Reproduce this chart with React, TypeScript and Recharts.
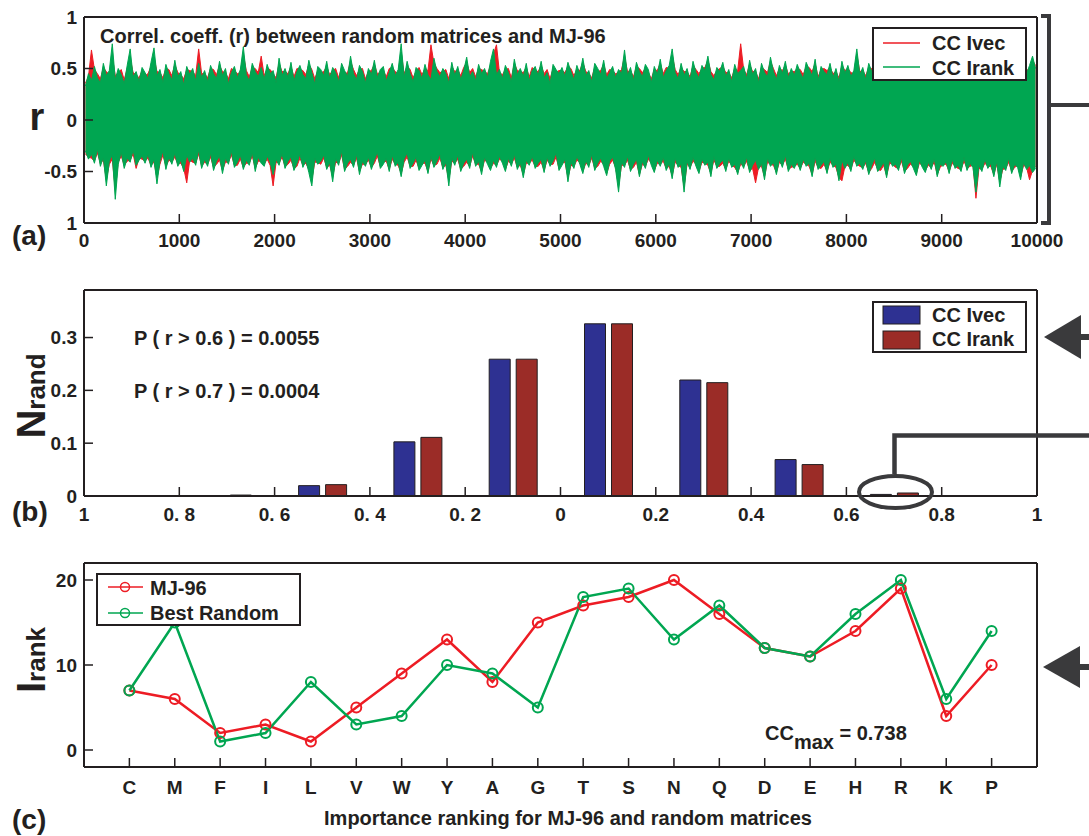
import React from 'react';
import { LineChart, Line, BarChart, Bar, AreaChart, Area, XAxis, YAxis, Legend } from 'recharts';

const FONT = '"Liberation Sans", Arial, Helvetica, sans-serif';
const INK = '#231f20';
const DECO = '#3a3a3c';
const RED = '#ed1c24';
const GREEN = '#00a651';

// ---------- Panel (a): r of the random matrices, envelope per column of ~31 matrices
const columnCount = 320;
const irankHi = [
  0.33,0.45,0.38,0.52,0.41,0.36,0.55,0.43,0.48,0.74,0.39,0.50,0.44,0.35,0.53,0.69,0.42,0.47,0.37,0.51,
  0.46,0.40,0.56,0.70,0.43,0.49,0.36,0.54,0.45,0.39,0.58,0.42,0.47,0.34,0.52,0.44,0.50,0.38,0.55,0.41,
  0.48,0.37,0.53,0.45,0.40,0.57,0.43,0.50,0.35,0.46,0.52,0.41,0.49,0.71,0.44,0.38,0.55,0.47,0.42,0.51,
  0.39,0.54,0.45,0.48,0.36,0.60,0.43,0.50,0.41,0.56,0.38,0.47,0.53,0.44,0.40,0.58,0.46,0.35,0.52,0.49,
  0.43,0.57,0.40,0.51,0.46,0.37,0.55,0.48,0.42,0.62,0.45,0.39,0.53,0.47,0.36,0.50,0.44,0.58,0.41,0.49,
  0.52,0.38,0.46,0.55,0.43,0.49,0.74,0.41,0.57,0.45,0.37,0.51,0.48,0.40,0.54,0.44,0.39,0.60,0.47,0.42,
  0.50,0.45,0.36,0.56,0.43,0.52,0.39,0.48,0.61,0.42,0.47,0.38,0.54,0.45,0.50,0.41,0.57,0.69,0.44,0.49,
  0.40,0.53,0.46,0.37,0.59,0.44,0.50,0.42,0.55,0.38,0.48,0.52,0.43,0.57,0.41,0.46,0.35,0.54,0.49,0.45,
  0.51,0.42,0.56,0.47,0.39,0.53,0.45,0.60,0.43,0.48,0.37,0.55,0.50,0.44,0.58,0.40,0.46,0.52,0.41,0.49,
  0.45,0.68,0.43,0.51,0.38,0.56,0.47,0.42,0.54,0.49,0.36,0.52,0.44,0.59,0.41,0.48,0.53,0.69,0.46,0.40,
  0.55,0.43,0.50,0.38,0.57,0.46,0.41,0.53,0.48,0.62,0.44,0.39,0.51,0.47,0.56,0.42,0.49,0.37,0.54,0.45,
  0.48,0.52,0.40,0.58,0.44,0.50,0.36,0.55,0.46,0.42,0.61,0.47,0.39,0.53,0.45,0.57,0.41,0.50,0.43,0.54,
  0.46,0.40,0.56,0.49,0.43,0.59,0.38,0.52,0.47,0.44,0.55,0.41,0.50,0.37,0.57,0.45,0.53,0.42,0.48,0.69,
  0.44,0.51,0.39,0.55,0.47,0.42,0.60,0.45,0.50,0.38,0.54,0.48,0.43,0.58,0.46,0.40,0.52,0.56,0.41,0.49,
  0.53,0.45,0.57,0.41,0.48,0.62,0.44,0.50,0.37,0.55,0.47,0.43,0.59,0.46,0.51,0.40,0.54,0.48,0.42,0.56,
  0.47,0.52,0.43,0.58,0.45,0.50,0.39,0.55,0.48,0.44,0.60,0.46,0.51,0.41,0.57,0.49,0.45,0.53,0.62,0.50,
];
const irankLo = [
  -0.30,-0.38,-0.33,-0.42,-0.28,-0.45,-0.36,-0.64,-0.40,-0.34,-0.77,-0.43,-0.31,-0.47,-0.37,-0.41,-0.29,-0.44,-0.39,-0.35,
  -0.42,-0.33,-0.46,-0.38,-0.62,-0.40,-0.30,-0.48,-0.36,-0.43,-0.32,-0.45,-0.39,-0.50,-0.34,-0.41,-0.37,-0.44,-0.29,-0.47,
  -0.38,-0.45,-0.32,-0.49,-0.40,-0.35,-0.52,-0.37,-0.43,-0.30,-0.46,-0.41,-0.34,-0.48,-0.39,-0.44,-0.31,-0.50,-0.36,-0.42,
  -0.45,-0.35,-0.41,-0.53,-0.38,-0.44,-0.32,-0.47,-0.40,-0.36,-0.49,-0.42,-0.33,-0.46,-0.39,-0.51,-0.64,-0.37,-0.43,-0.40,
  -0.34,-0.48,-0.41,-0.60,-0.37,-0.44,-0.30,-0.50,-0.42,-0.38,-0.46,-0.33,-0.53,-0.40,-0.45,-0.36,-0.48,-0.39,-0.31,-0.47,
  -0.43,-0.37,-0.50,-0.34,-0.45,-0.41,-0.55,-0.38,-0.32,-0.47,-0.42,-0.36,-0.49,-0.44,-0.39,-0.52,-0.35,-0.46,-0.40,-0.33,
  -0.48,-0.41,-0.64,-0.37,-0.44,-0.34,-0.50,-0.42,-0.38,-0.47,-0.31,-0.45,-0.40,-0.53,-0.36,-0.43,-0.49,-0.39,-0.46,-0.35,
  -0.42,-0.50,-0.37,-0.45,-0.33,-0.48,-0.41,-0.56,-0.39,-0.44,-0.35,-0.47,-0.42,-0.38,-0.51,-0.36,-0.45,-0.40,-0.32,-0.49,
  -0.44,-0.38,-0.60,-0.41,-0.47,-0.35,-0.43,-0.52,-0.39,-0.46,-0.33,-0.49,-0.42,-0.37,-0.45,-0.54,-0.40,-0.36,-0.48,-0.70,
  -0.41,-0.46,-0.35,-0.50,-0.43,-0.38,-0.55,-0.40,-0.47,-0.34,-0.44,-0.51,-0.39,-0.45,-0.36,-0.49,-0.42,-0.57,-0.37,-0.46,
  -0.43,-0.70,-0.40,-0.48,-0.36,-0.45,-0.52,-0.38,-0.44,-0.41,-0.55,-0.35,-0.47,-0.42,-0.39,-0.50,-0.37,-0.46,-0.43,-0.53,
  -0.40,-0.47,-0.36,-0.51,-0.44,-0.39,-0.48,-0.42,-0.58,-0.37,-0.45,-0.41,-0.53,-0.38,-0.46,-0.34,-0.50,-0.43,-0.47,-0.40,
  -0.49,-0.38,-0.45,-0.42,-0.55,-0.36,-0.48,-0.44,-0.40,-0.52,-0.37,-0.46,-0.43,-0.59,-0.39,-0.47,-0.41,-0.50,-0.35,-0.45,
  -0.42,-0.48,-0.39,-0.53,-0.44,-0.37,-0.50,-0.46,-0.41,-0.56,-0.38,-0.45,-0.43,-0.49,-0.36,-0.52,-0.44,-0.40,-0.47,-0.54,
  -0.39,-0.46,-0.51,-0.41,-0.48,-0.37,-0.55,-0.43,-0.45,-0.40,-0.52,-0.38,-0.47,-0.44,-0.50,-0.36,-0.49,-0.42,-0.46,-0.70,
  -0.44,-0.50,-0.38,-0.47,-0.42,-0.55,-0.40,-0.65,-0.45,-0.49,-0.37,-0.52,-0.43,-0.46,-0.58,-0.41,-0.48,-0.44,-0.51,-0.47,
];
const ivecHi = [
  0.36,0.42,0.68,0.49,0.45,0.40,0.51,0.47,0.44,0.62,0.43,0.46,0.49,0.39,0.50,0.60,0.46,0.44,0.41,0.48,
  0.43,0.45,0.52,0.61,0.47,0.46,0.41,0.50,0.49,0.43,0.54,0.46,0.44,0.40,0.49,0.48,0.47,0.43,0.69,0.45,
  0.45,0.41,0.50,0.49,0.44,0.53,0.47,0.46,0.40,0.50,0.48,0.45,0.46,0.64,0.48,0.42,0.51,0.50,0.46,0.62,
  0.43,0.50,0.49,0.45,0.41,0.55,0.47,0.47,0.45,0.52,0.42,0.50,0.49,0.48,0.44,0.54,0.49,0.40,0.48,0.46,
  0.47,0.52,0.44,0.48,0.50,0.41,0.51,0.45,0.46,0.57,0.49,0.43,0.49,0.50,0.40,0.47,0.48,0.54,0.45,0.46,
  0.48,0.42,0.50,0.51,0.47,0.45,0.66,0.45,0.52,0.49,0.41,0.47,0.51,0.44,0.50,0.48,0.73,0.55,0.50,0.46,
  0.47,0.49,0.40,0.52,0.47,0.49,0.43,0.51,0.56,0.46,0.50,0.42,0.50,0.49,0.47,0.45,0.53,0.64,0.73,0.46,
  0.44,0.49,0.50,0.41,0.55,0.48,0.47,0.46,0.51,0.42,0.51,0.48,0.47,0.53,0.45,0.49,0.40,0.50,0.46,0.48,
  0.48,0.46,0.52,0.50,0.43,0.49,0.48,0.56,0.47,0.45,0.41,0.51,0.47,0.48,0.54,0.44,0.49,0.48,0.45,0.46,
  0.49,0.62,0.47,0.48,0.42,0.52,0.50,0.46,0.50,0.46,0.40,0.49,0.48,0.55,0.45,0.51,0.50,0.63,0.49,0.44,
  0.51,0.47,0.47,0.42,0.53,0.49,0.45,0.50,0.51,0.58,0.47,0.43,0.48,0.50,0.52,0.46,0.46,0.41,0.50,0.48,
  0.74,0.49,0.44,0.54,0.47,0.47,0.40,0.51,0.49,0.46,0.57,0.50,0.43,0.50,0.48,0.53,0.45,0.47,0.47,0.50,
  0.49,0.44,0.52,0.51,0.47,0.55,0.42,0.49,0.50,0.48,0.51,0.45,0.47,0.41,0.53,0.48,0.50,0.46,0.45,0.64,
  0.47,0.48,0.43,0.51,0.50,0.46,0.56,0.48,0.47,0.42,0.50,0.51,0.47,0.54,0.49,0.44,0.49,0.52,0.45,0.46,
  0.50,0.48,0.53,0.45,0.51,0.58,0.47,0.47,0.41,0.51,0.50,0.47,0.55,0.49,0.48,0.44,0.50,0.51,0.46,0.52,
  0.50,0.49,0.47,0.54,0.48,0.47,0.43,0.51,0.51,0.48,0.56,0.49,0.48,0.45,0.53,0.52,0.48,0.50,0.58,0.53,
];
const ivecLo = [
  -0.33,-0.36,-0.37,-0.40,-0.32,-0.42,-0.39,-0.58,-0.43,-0.38,-0.68,-0.41,-0.35,-0.44,-0.40,-0.39,-0.33,-0.47,-0.37,-0.38,
  -0.40,-0.37,-0.44,-0.41,-0.56,-0.43,-0.34,-0.45,-0.39,-0.41,-0.36,-0.43,-0.42,-0.47,-0.61,-0.39,-0.41,-0.42,-0.33,-0.45,
  -0.41,-0.43,-0.36,-0.46,-0.43,-0.39,-0.49,-0.41,-0.41,-0.34,-0.44,-0.44,-0.38,-0.46,-0.42,-0.42,-0.35,-0.47,-0.40,-0.40,
  -0.43,-0.38,-0.44,-0.64,-0.41,-0.42,-0.36,-0.45,-0.43,-0.39,-0.47,-0.45,-0.37,-0.44,-0.42,-0.48,-0.58,-0.41,-0.41,-0.43,
  -0.37,-0.46,-0.44,-0.55,-0.41,-0.42,-0.34,-0.48,-0.45,-0.41,-0.44,-0.37,-0.50,-0.43,-0.43,-0.39,-0.46,-0.42,-0.35,-0.45,
  -0.41,-0.40,-0.48,-0.38,-0.43,-0.44,-0.52,-0.41,-0.36,-0.45,-0.45,-0.39,-0.47,-0.42,-0.42,-0.50,-0.38,-0.44,-0.43,-0.37,
  -0.46,-0.44,-0.58,-0.40,-0.42,-0.38,-0.48,-0.45,-0.41,-0.45,-0.35,-0.43,-0.43,-0.50,-0.39,-0.41,-0.47,-0.42,-0.44,-0.38,
  -0.40,-0.48,-0.40,-0.43,-0.37,-0.46,-0.44,-0.53,-0.42,-0.42,-0.39,-0.45,-0.45,-0.41,-0.49,-0.39,-0.43,-0.43,-0.36,-0.47,
  -0.42,-0.41,-0.56,-0.44,-0.45,-0.39,-0.41,-0.50,-0.42,-0.44,-0.37,-0.47,-0.45,-0.40,-0.43,-0.52,-0.43,-0.39,-0.46,-0.64,
  -0.44,-0.44,-0.39,-0.48,-0.46,-0.41,-0.53,-0.43,-0.45,-0.38,-0.42,-0.49,-0.42,-0.43,-0.40,-0.47,-0.45,-0.54,-0.41,-0.44,
  -0.46,-0.65,-0.43,-0.46,-0.40,-0.43,-0.50,-0.41,-0.42,-0.44,-0.52,-0.39,-0.45,-0.45,-0.42,-0.48,-0.40,-0.44,-0.46,-0.51,
  -0.43,-0.45,-0.40,-0.49,-0.47,-0.61,-0.46,-0.45,-0.55,-0.41,-0.43,-0.44,-0.51,-0.41,-0.44,-0.38,-0.48,-0.46,-0.45,-0.43,
  -0.47,-0.41,-0.43,-0.45,-0.53,-0.40,-0.46,-0.47,-0.43,-0.50,-0.41,-0.44,-0.46,-0.56,-0.59,-0.45,-0.44,-0.48,-0.39,-0.43,
  -0.45,-0.46,-0.42,-0.51,-0.47,-0.41,-0.48,-0.49,-0.44,-0.54,-0.42,-0.43,-0.46,-0.47,-0.40,-0.50,-0.47,-0.43,-0.45,-0.52,
  -0.42,-0.44,-0.49,-0.44,-0.46,-0.41,-0.53,-0.46,-0.43,-0.43,-0.50,-0.42,-0.45,-0.47,-0.48,-0.40,-0.47,-0.45,-0.44,-0.76,
  -0.47,-0.48,-0.42,-0.45,-0.45,-0.53,-0.43,-0.60,-0.48,-0.47,-0.41,-0.50,-0.46,-0.44,-0.55,-0.44,-0.46,-0.58,-0.49,-0.45,
];
const aXTicks = [0, 1000, 2000, 3000, 4000, 5000, 6000, 7000, 8000, 9000, 10000];
const aYTicks = [-1, -0.5, 0, 0.5, 1];
const aYLabels = ['1', '-0.5', '0', '0.5', '1'];

// ---------- Panel (b): histogram of r
const binCenters = [-0.9, -0.7, -0.5, -0.3, -0.1, 0.1, 0.3, 0.5, 0.7, 0.9];
const nIvec = [0, 0, 0.0196, 0.1025, 0.259, 0.326, 0.2196, 0.069, 0.003, 0];
const nIrank = [0, 0.0018, 0.0215, 0.111, 0.259, 0.326, 0.2146, 0.0595, 0.0057, 0];
const bXTicks = [-1, -0.8, -0.6, -0.4, -0.2, 0, 0.2, 0.4, 0.6, 0.8, 1];
const bXLabels = ['1', '0. 8', '0. 6', '0. 4', '0. 2', '0', '0.2', '0.4', '0.6', '0.8', '1'];
const bYTicks = [0, 0.1, 0.2, 0.3];

// ---------- Panel (c): importance ranking
const residues = ['C', 'M', 'F', 'I', 'L', 'V', 'W', 'Y', 'A', 'G', 'T', 'S', 'N', 'Q', 'D', 'E', 'H', 'R', 'K', 'P'];
const mj96 = [7, 6, 2, 3, 1, 5, 9, 13, 8, 15, 17, 18, 20, 16, 12, 11, 14, 19, 4, 10];
const bestRandom = [7, 15, 1, 2, 8, 3, 4, 10, 9, 5, 18, 19, 13, 17, 12, 11, 16, 20, 6, 14];
const cYTicks = [0, 10, 20];

const colStep = 10000 / columnCount;
const aData = irankHi.map((h, k) => ({
  idx: (k + 0.5) * colStep,
  irank: [irankLo[k], h],
  ivec: [ivecLo[k], ivecHi[k]],
}));
const bData = binCenters.map((x, i) => ({ x, ivec: nIvec[i], irank: nIrank[i] }));
const cData = residues.map((r, i) => ({ pos: i + 1, res: r, mj: mj96[i], best: bestRandom[i] }));
const cXTicks = cData.map((d) => d.pos);

const tickStyle = { fontSize: 19, fontWeight: 700, fill: INK, fontFamily: FONT };
const axisLine = { stroke: INK, strokeWidth: 2 };
const tickLine = { stroke: INK, strokeWidth: 1.5 };
const TS = -9;

const textBase: any = { fontFamily: FONT, fontWeight: 700, fill: INK };

function orderItems(payload: any[], order: string[]) {
  const items = (payload || []).slice();
  items.sort((a, b) => order.indexOf(a.value) - order.indexOf(b.value));
  return items;
}

const legendA = (props: any) => {
  const items = orderItems(props.payload, ['CC Ivec', 'CC Irank']);
  return (
    <svg width={155} height={54} style={{ display: 'block' }}>
      <rect x={1} y={1} width={153} height={52} fill="#fff" stroke={INK} strokeWidth={2} />
      {items.map((it: any, i: number) => (
        <g key={i}>
          <line x1={11} x2={48} y1={16 + i * 24} y2={16 + i * 24} stroke={it.color} strokeWidth={1.5} />
          <text x={60} y={23 + i * 25} fontSize={20} {...textBase}>{it.value}</text>
        </g>
      ))}
    </svg>
  );
};

const legendB = (props: any) => {
  const items = orderItems(props.payload, ['CC Ivec', 'CC Irank']);
  return (
    <svg width={155} height={52} style={{ display: 'block' }}>
      <rect x={1} y={1} width={153} height={50} fill="#fff" stroke={INK} strokeWidth={2} />
      {items.map((it: any, i: number) => (
        <g key={i}>
          <rect x={11} y={5 + i * 25} width={37} height={18} fill={it.color} stroke={INK} strokeWidth={1} />
          <text x={60} y={21 + i * 24} fontSize={20} {...textBase}>{it.value}</text>
        </g>
      ))}
    </svg>
  );
};

const legendC = (props: any) => {
  const items = orderItems(props.payload, ['MJ-96', 'Best Random']);
  return (
    <svg width={205} height={53} style={{ display: 'block' }}>
      <rect x={1} y={1} width={203} height={51} fill="#fff" stroke={INK} strokeWidth={2} />
      {items.map((it: any, i: number) => (
        <g key={i}>
          <line x1={12} x2={47} y1={14 + i * 26} y2={14 + i * 26} stroke={it.color} strokeWidth={1.5} />
          <circle cx={29} cy={14 + i * 26} r={4.5} fill="none" stroke={it.color} strokeWidth={1.5} />
          <text x={54} y={22 + i * 25} fontSize={20} {...textBase}>{it.value}</text>
        </g>
      ))}
    </svg>
  );
};

function PanelA() {
  return (
    <AreaChart width={1089} height={260} data={aData} margin={{ top: 16, right: 51, bottom: 7, left: 44 }}>
      <XAxis xAxisId="b" dataKey="idx" type="number" domain={[0, 10000]} ticks={aXTicks} allowDataOverflow interval={0}
        height={30} tickSize={TS} tickMargin={20} axisLine={axisLine} tickLine={tickLine} tick={tickStyle} />
      <XAxis xAxisId="t" orientation="top" type="number" domain={[0, 10000]} ticks={aXTicks} allowDataOverflow interval={0}
        height={1} tickSize={TS} tick={false} axisLine={axisLine} tickLine={tickLine} />
      <YAxis yAxisId="l" type="number" domain={[-1, 1]} ticks={aYTicks} allowDataOverflow interval={0} width={40}
        tickSize={TS} tickMargin={16} tickFormatter={(v: any, i: number) => aYLabels[i]} axisLine={axisLine} tickLine={tickLine} tick={tickStyle} />
      <YAxis yAxisId="r" orientation="right" type="number" domain={[-1, 1]} ticks={aYTicks} allowDataOverflow interval={0} width={1}
        tickSize={TS} tick={false} axisLine={axisLine} tickLine={tickLine} />
      <Area xAxisId="b" yAxisId="l" type="linear" dataKey="ivec" name="CC Ivec" stroke={RED} strokeWidth={1}
        fill={RED} fillOpacity={1} dot={false} activeDot={false} isAnimationActive={false} />
      <Area xAxisId="b" yAxisId="l" type="linear" dataKey="irank" name="CC Irank" stroke={GREEN} strokeWidth={1}
        fill={GREEN} fillOpacity={1} dot={false} activeDot={false} isAnimationActive={false} />
      <Legend layout="horizontal" align="center" verticalAlign="middle" content={legendA}
        wrapperStyle={{ left: 872, top: 27, width: 155, height: 54, lineHeight: 0 }} />
    </AreaChart>
  );
}

function PanelB() {
  return (
    <BarChart width={1089} height={270} data={bData} margin={{ top: 19, right: 51, bottom: 14, left: 44 }} barGap={6} barSize={21}>
      <XAxis xAxisId="num" dataKey="x" type="number" domain={[-1, 1]} ticks={bXTicks} allowDataOverflow interval={0}
        height={30} tickSize={TS} tickMargin={21} tickFormatter={(v: any, i: number) => bXLabels[i]}
        axisLine={axisLine} tickLine={tickLine} tick={tickStyle} />
      <XAxis xAxisId="top" orientation="top" type="number" domain={[-1, 1]} ticks={bXTicks} allowDataOverflow interval={0}
        height={1} tickSize={TS} tick={false} axisLine={axisLine} tickLine={tickLine} />
      <YAxis yAxisId="l" type="number" domain={[0, 0.39]} ticks={bYTicks} allowDataOverflow interval={0} width={40}
        tickSize={TS} tickMargin={16} axisLine={axisLine} tickLine={tickLine} tick={tickStyle} />
      <YAxis yAxisId="r" orientation="right" type="number" domain={[0, 0.39]} ticks={bYTicks} allowDataOverflow interval={0} width={1}
        tickSize={TS} tick={false} axisLine={axisLine} tickLine={tickLine} />
      <Bar xAxisId="num" yAxisId="l" dataKey="ivec" name="CC Ivec" fill="#2e3192" stroke={INK} strokeWidth={1} isAnimationActive={false} />
      <Bar xAxisId="num" yAxisId="l" dataKey="irank" name="CC Irank" fill="#9b2c27" stroke={INK} strokeWidth={1} isAnimationActive={false} />
      <Legend layout="horizontal" align="center" verticalAlign="middle" content={legendB}
        wrapperStyle={{ left: 872, top: 31, width: 155, height: 52, lineHeight: 0 }} />
    </BarChart>
  );
}

function PanelC() {
  return (
    <LineChart width={1089} height={296} data={cData} margin={{ top: 22, right: 51, bottom: 39, left: 44 }}>
      <XAxis xAxisId="b" dataKey="pos" type="number" domain={[0, 21]} ticks={cXTicks} allowDataOverflow interval={0}
        height={30} tickSize={TS} tickMargin={23} tickFormatter={(v: any, i: number) => residues[i]}
        axisLine={axisLine} tickLine={tickLine} tick={tickStyle} />
      <XAxis xAxisId="t" orientation="top" type="number" domain={[0, 21]} ticks={cXTicks} allowDataOverflow interval={0}
        height={1} tickSize={TS} tick={false} axisLine={axisLine} tickLine={tickLine} />
      <YAxis yAxisId="l" type="number" domain={[-2, 22]} ticks={cYTicks} allowDataOverflow interval={0} width={40}
        tickSize={TS} tickMargin={16} axisLine={axisLine} tickLine={tickLine} tick={tickStyle} />
      <YAxis yAxisId="r" orientation="right" type="number" domain={[-2, 22]} ticks={cYTicks} allowDataOverflow interval={0} width={1}
        tickSize={TS} tick={false} axisLine={axisLine} tickLine={tickLine} />
      <Line xAxisId="b" yAxisId="l" type="linear" dataKey="mj" name="MJ-96" stroke={RED} strokeWidth={2.5}
        dot={{ r: 5, strokeWidth: 2, fill: 'none', stroke: RED }} activeDot={false} isAnimationActive={false} />
      <Line xAxisId="b" yAxisId="l" type="linear" dataKey="best" name="Best Random" stroke={GREEN} strokeWidth={2.5}
        dot={{ r: 5, strokeWidth: 2, fill: 'none', stroke: GREEN }} activeDot={false} isAnimationActive={false} />
      <Legend layout="horizontal" align="center" verticalAlign="middle" content={legendC}
        wrapperStyle={{ left: 96, top: 33, width: 205, height: 53, lineHeight: 0 }} />
    </LineChart>
  );
}

function Overlay() {
  return (
    <svg width={1089} height={836} style={{ position: 'absolute', left: 0, top: 0, pointerEvents: 'none' }}>
      {/* cover strays at empty page margins */}
      <rect x={0} y={282} width={8} height={22} fill="#fff" />
      <rect x={1078} y={558} width={11} height={22} fill="#fff" />
      {/* panel (a) texts */}
      <text x={100} y={43} fontSize={20} {...textBase}>Correl. coeff. (r) between random matrices and MJ-96</text>
      <text x={37} y={130} fontSize={38} textAnchor="middle" {...textBase}>r</text>
      <text x={12} y={245} fontSize={28} {...textBase}>(a)</text>
      {/* panel (b) texts */}
      <text transform="translate(45,396) rotate(-90)" textAnchor="middle" {...textBase}>
        <tspan fontSize={40}>N</tspan><tspan fontSize={26}>rand</tspan>
      </text>
      <text x={134} y={345} fontSize={20} {...textBase}>P ( r &gt; 0.6 ) = 0.0055</text>
      <text x={134} y={398} fontSize={20} {...textBase}>P ( r &gt; 0.7 ) = 0.0004</text>
      <text x={12} y={521} fontSize={28} {...textBase}>(b)</text>
      {/* panel (c) texts */}
      <text transform="translate(45,660) rotate(-90)" textAnchor="middle" {...textBase}>
        <tspan fontSize={40}>I</tspan><tspan fontSize={26}>rank</tspan>
      </text>
      <text x={765} y={740} fontSize={20} {...textBase}>
        CC<tspan dy={9}>max</tspan><tspan dy={-9}> = 0.738</tspan>
      </text>
      <text x={568} y={825} fontSize={20} textAnchor="middle" {...textBase}>Importance ranking for MJ-96 and random matrices</text>
      <text x={12} y={829} fontSize={28} {...textBase}>(c)</text>
      {/* decorations */}
      <path d="M1041 16 H1049 V223 H1041" fill="none" stroke={DECO} strokeWidth={4} />
      <path d="M1049 105 H1089" fill="none" stroke={DECO} strokeWidth={4} />
      <polygon points="1044,337 1081,315 1081,359" fill={DECO} />
      <rect x={1078} y={334} width={11} height={6} fill={DECO} />
      <path d="M894.5 474 V435.5 H1089" fill="none" stroke={DECO} strokeWidth={4.5} />
      <ellipse cx={895.5} cy={492} rx={36.5} ry={16} fill="none" stroke={DECO} strokeWidth={4} />
      <polygon points="1043,667 1080,646 1080,688" fill={DECO} />
      <rect x={1078} y={664} width={11} height={6} fill={DECO} />
    </svg>
  );
}

export default function App() {
  return (
    <div style={{ position: 'absolute', left: 0, top: 0, width: 1089, height: 836, background: '#fff', overflow: 'hidden', fontFamily: FONT }}>
      <div style={{ position: 'absolute', left: 0, top: 0, width: 1089, height: 260, overflow: 'hidden' }}><PanelA /></div>
      <div style={{ position: 'absolute', left: 0, top: 270, width: 1089, height: 270, overflow: 'hidden' }}><PanelB /></div>
      <div style={{ position: 'absolute', left: 0, top: 540, width: 1089, height: 296, overflow: 'hidden' }}><PanelC /></div>
      <Overlay />
    </div>
  );
}
